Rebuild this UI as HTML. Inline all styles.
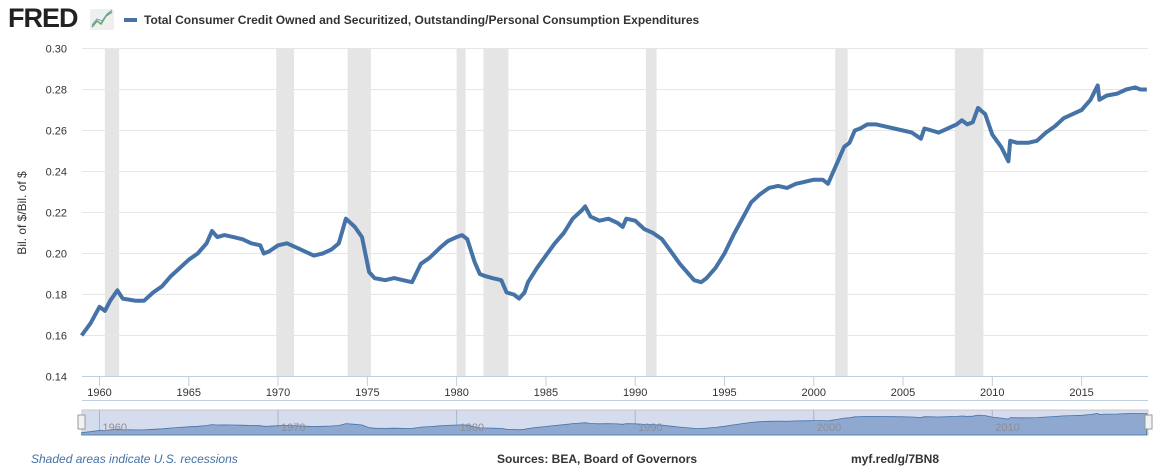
<!DOCTYPE html>
<html><head><meta charset="utf-8"><style>
body{margin:0;background:#fff;width:1168px;height:470px;overflow:hidden;font-family:"Liberation Sans",sans-serif}
svg{display:block}
</style></head><body>
<svg id="c" width="1168" height="470">
<g>
<text x="8" y="27" font-size="27" font-weight="bold" fill="#222" letter-spacing="-1">FRED</text>
<rect x="90" y="9" width="24" height="21" fill="#eef0f0" rx="2"/>
<polyline points="92,27 97,21 101,24 106,16 112,12" fill="none" stroke="#6aa84f" stroke-width="1.5"/>
<polyline points="92,25 97,19 102,21 107,14 112,10" fill="none" stroke="#6d9ed6" stroke-width="1"/>
</g>
<g>
<rect x="124" y="18" width="13" height="4" fill="#4572a7"/>
<text x="144" y="24" font-size="12" font-weight="bold" fill="#333">Total Consumer Credit Owned and Securitized, Outstanding/Personal Consumption Expenditures</text>
</g>
<text transform="translate(26,213) rotate(-90)" text-anchor="middle" font-size="12" fill="#333">Bil. of $/Bil. of $</text>
<g id="rec"></g><g id="grid"></g><g id="xt"></g>
<path id="line" fill="none" stroke="#4572a7" stroke-width="4" stroke-linejoin="round"/>
<g>
<rect x="82" y="410" width="1066" height="25" fill="#d5dcee" stroke="#c8c8c8"/>
<g id="navl"></g>
<path id="nava" fill="#8ea8cf" stroke="#4572a7" stroke-width="0.8"/>
<g id="navg"></g>
<rect x="78" y="415" width="7" height="14" fill="#f2f2f2" stroke="#999"/>
<rect x="1145" y="415" width="7" height="14" fill="#f2f2f2" stroke="#999"/>
</g>
<text x="31" y="463" font-size="12" font-style="italic" fill="#4572a7">Shaded areas indicate U.S. recessions</text>
<text x="497" y="463" font-size="12" font-weight="bold" fill="#333">Sources: BEA, Board of Governors</text>
<text x="851" y="463" font-size="12" font-weight="bold" fill="#333">myf.red/g/7BN8</text>
</svg>
<script>
const years=[1959.0,1959.5,1960.0,1960.3,1960.6,1961.0,1961.3,1962.0,1962.5,1963.0,1963.5,1964.0,1964.5,1965.0,1965.5,1966.0,1966.3,1966.6,1967.0,1967.5,1968.0,1968.5,1969.0,1969.2,1969.5,1970.0,1970.5,1971.0,1971.5,1972.0,1972.5,1973.0,1973.4,1973.8,1974.3,1974.7,1975.1,1975.4,1976.0,1976.5,1977.0,1977.5,1978.0,1978.5,1979.1,1979.5,1980.0,1980.3,1980.6,1981.0,1981.3,1981.6,1982.0,1982.5,1982.8,1983.2,1983.5,1983.8,1984.0,1984.5,1985.0,1985.5,1986.0,1986.5,1987.0,1987.2,1987.5,1988.0,1988.5,1989.0,1989.3,1989.5,1990.0,1990.5,1991.0,1991.5,1992.0,1992.5,1993.0,1993.3,1993.7,1994.0,1994.5,1995.0,1995.5,1996.0,1996.5,1997.0,1997.5,1998.0,1998.5,1999.0,1999.5,2000.0,2000.5,2000.8,2001.0,2001.3,2001.7,2002.0,2002.3,2002.6,2003.0,2003.5,2004.0,2004.5,2005.0,2005.5,2006.0,2006.2,2006.6,2007.0,2007.5,2008.0,2008.3,2008.6,2008.9,2009.2,2009.6,2010.0,2010.5,2010.9,2011.0,2011.4,2012.0,2012.5,2013.0,2013.5,2014.0,2014.5,2015.0,2015.5,2015.9,2016.0,2016.4,2017.0,2017.5,2018.0,2018.3,2018.65];
const values=[0.160,0.166,0.174,0.172,0.177,0.182,0.178,0.177,0.177,0.181,0.184,0.189,0.193,0.197,0.200,0.205,0.211,0.208,0.209,0.208,0.207,0.205,0.204,0.200,0.201,0.204,0.205,0.203,0.201,0.199,0.200,0.202,0.205,0.217,0.213,0.208,0.191,0.188,0.187,0.188,0.187,0.186,0.195,0.198,0.203,0.206,0.208,0.209,0.207,0.196,0.190,0.189,0.188,0.187,0.181,0.180,0.178,0.181,0.186,0.193,0.199,0.205,0.210,0.217,0.221,0.223,0.218,0.216,0.217,0.215,0.213,0.217,0.216,0.212,0.210,0.207,0.201,0.195,0.190,0.187,0.186,0.188,0.193,0.200,0.209,0.217,0.225,0.229,0.232,0.233,0.232,0.234,0.235,0.236,0.236,0.234,0.238,0.244,0.252,0.254,0.260,0.261,0.263,0.263,0.262,0.261,0.260,0.259,0.256,0.261,0.260,0.259,0.261,0.263,0.265,0.263,0.264,0.271,0.268,0.258,0.252,0.245,0.255,0.254,0.254,0.255,0.259,0.262,0.266,0.268,0.270,0.275,0.282,0.275,0.277,0.278,0.280,0.281,0.280,0.280];
const recessions=[[1960.3,1961.1],[1969.9,1970.9],[1973.9,1975.2],[1980.0,1980.5],[1981.5,1982.9],[1990.6,1991.2],[2001.2,2001.9],[2007.9,2009.5]];
const yTicks=[0.14,0.16,0.18,0.20,0.22,0.24,0.26,0.28,0.30];
const xTicks=[1960,1965,1970,1975,1980,1985,1990,1995,2000,2005,2010,2015];
const navTicks=[1960,1970,1980,1990,2000,2010];
const NS='http://www.w3.org/2000/svg';
const X=t=>99.5+(t-1960)*17.856;
const Y=v=>376.5-(v-0.14)/0.16*328;
const NY=v=>435-(v-0.145)*158;
function mk(p,tag,a){const e=document.createElementNS(NS,tag);for(const k in a)e.setAttribute(k,a[k]);document.getElementById(p).appendChild(e);return e;}
recessions.forEach(r=>{const e=mk('rec','rect',{x:X(r[0]),y:49,width:X(r[1])-X(r[0]),height:328,fill:'#e5e5e5'});

});
yTicks.forEach(v=>{const l=mk('grid','line',{x1:82,x2:1148,y1:Y(v),y2:Y(v),stroke:v===0.14?'#c0d0e0':'#e6e6e6'});


const t=mk('grid','text',{x:67,y:Y(v)+4,'text-anchor':'end','font-size':11,fill:'#333'});t.textContent=v.toFixed(2);

});
xTicks.forEach(y=>{const l=mk('xt','line',{x1:X(y),x2:X(y),y1:377,y2:386,stroke:'#c0d0e0'});


const t=mk('xt','text',{x:X(y),y:396,'text-anchor':'middle','font-size':11,fill:'#333'});t.textContent=y;

});
const ax=mk('xt','line',{x1:82,x2:1148,y1:400.5,y2:400.5,stroke:'#c0d0e0'});


let d='';years.forEach((t,i)=>{d+=(i?'L':'M')+X(t).toFixed(1)+','+Y(values[i]).toFixed(1);});
document.getElementById('line').setAttribute('d',d);
let nd='M'+X(years[0])+',435';years.forEach((t,i)=>{nd+='L'+X(t).toFixed(1)+','+NY(values[i]).toFixed(1);});
nd+='L'+X(years[years.length-1])+',435Z';
document.getElementById('nava').setAttribute('d',nd);
navTicks.forEach(y=>{const l=mk('navl','line',{x1:X(y),x2:X(y),y1:410,y2:435,stroke:'#aab4c8'});


const t=mk('navg','text',{x:X(y)+3,y:431,'font-size':11,fill:'#8a8f99'});t.textContent=y;

});
</script>
</body></html>
